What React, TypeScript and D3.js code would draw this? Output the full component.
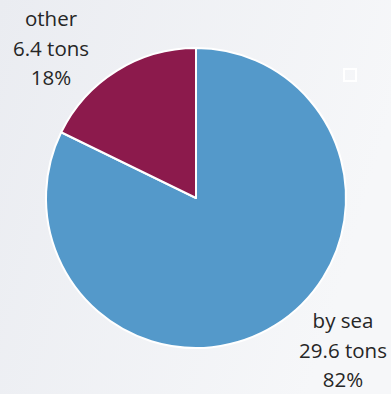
import React, { useEffect } from "react";
import * as d3 from "d3";

const categories = ["by sea", "other"];
const values = [29.6, 6.4];
const percents = ["82%", "18%"];
const colors = ["#5499ca", "#8c1a4c"];

const W = 391;
const H = 394;

export default function App() {
  useEffect(() => {
    document.body.style.margin = "0";
  }, []);
  const cx = 196;
  const cy = 198;
  const r = 150;
  const pie = d3.pie<number>().sort(null).value((d) => d)(values);
  const arc = d3.arc<d3.PieArcDatum<number>>().innerRadius(0).outerRadius(r);
  const labelPos = [
    { x: 343, y: 328 },
    { x: 51, y: 26 },
  ];
  return (
    <div style={{ position: "fixed", left: 0, top: 0, width: W, height: H }}>
      <svg width={W} height={H} style={{ display: "block" }}>
        <defs>
          <linearGradient id="bg" x1="0" y1="0" x2="1" y2="0.3">
            <stop offset="0" stopColor="#eaecf1" />
            <stop offset="1" stopColor="#f6f7f9" />
          </linearGradient>
        </defs>
        <rect width={W} height={H} fill="url(#bg)" />
        <rect x={344} y={69} width={12} height={12} fill="none" stroke="#ffffff" strokeWidth={2} />
        <g transform={`translate(${cx},${cy})`}>
          {pie.map((p, i) => (
            <path key={i} d={arc(p) || ""} fill={colors[i]} stroke="#ffffff" strokeWidth={2} strokeLinejoin="round" />
          ))}
        </g>
        {categories.map((c, i) => {
          const lines = [c, `${values[i]} tons`, percents[i]];
          return (
            <text
              key={c}
              textAnchor="middle"
              fontFamily="'Open Sans', sans-serif"
              fontSize={20.5}
              fill="#262626"
            >
              {lines.map((l, j) => (
                <tspan key={j} x={labelPos[i].x} y={labelPos[i].y + j * 29.5}>
                  {l}
                </tspan>
              ))}
            </text>
          );
        })}
      </svg>
    </div>
  );
}
